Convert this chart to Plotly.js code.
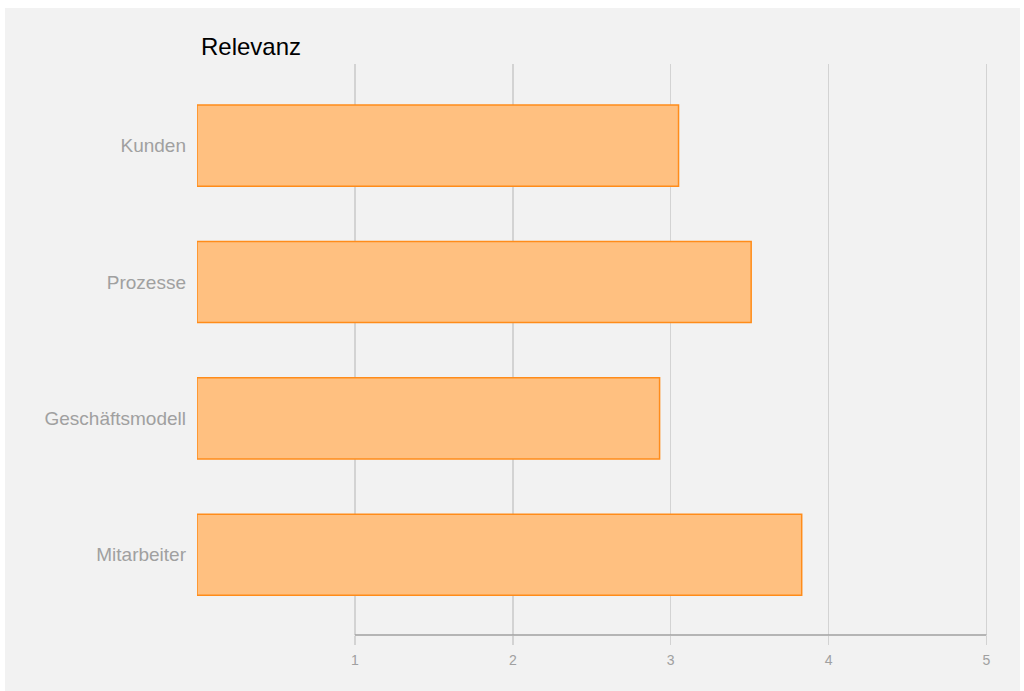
<!DOCTYPE html>
<html>
<head>
<meta charset="utf-8">
<script src="https://cdn.plot.ly/plotly-3.0.1.min.js"></script>
<style>
html,body{margin:0;padding:0;background:#ffffff;}
#chart{position:absolute;left:5px;top:8px;width:1015px;height:683px;}
</style>
</head>
<body>
<div id="chart"></div>
<script>
const categories = ["Kunden", "Prozesse", "Geschäftsmodell", "Mitarbeiter"];
const relevanz = [3.05, 3.51, 2.93, 3.83];
const xTicks = [1, 2, 3, 4, 5];
const xTickLabels = ["1", "2", "3", "4", "5"];
const chartTitle = "Relevanz";

const trace = {
  type: "bar",
  orientation: "h",
  y: categories,
  x: relevanz,
  marker: {color: "#ffc080", line: {color: "#ff8c1a", width: 1.5}},
  hoverinfo: "x+y"
};

const layout = {
  width: 1015,
  height: 683,
  paper_bgcolor: "#f2f2f2",
  plot_bgcolor: "#f2f2f2",
  margin: {l: 192, r: 32, t: 56, b: 56, pad: 0},
  showlegend: false,
  bargap: 0.405,
  font: {family: "Liberation Sans, Arial, sans-serif", color: "#a0a0a0"},
  title: {
    text: chartTitle,
    x: 0, xref: "paper", xanchor: "left",
    y: 1, yref: "container", yanchor: "top",
    pad: {t: 30, l: 4},
    font: {size: 24, color: "#000000", family: "Liberation Sans, Arial, sans-serif"}
  },
  xaxis: {
    range: [0, 5.01],
    tickvals: xTicks,
    ticktext: xTickLabels,
    showgrid: true,
    gridcolor: "#d3d3d3",
    gridwidth: 1.5,
    zeroline: false,
    showline: false,
    ticks: "outside",
    ticklen: 9,
    tickwidth: 1.5,
    tickcolor: "#d3d3d3",
    ticklabelstandoff: 3,
    tickfont: {size: 14, color: "#a0a0a0"},
    fixedrange: true
  },
  yaxis: {
    type: "category",
    categoryorder: "array",
    categoryarray: categories,
    range: [3.588, -0.598],
    showgrid: false,
    zeroline: false,
    showline: false,
    ticks: "",
    ticklabelstandoff: 10,
    tickfont: {size: 19, color: "#a0a0a0"},
    fixedrange: true
  },
  shapes: [{
    type: "line", xref: "x", yref: "paper",
    x0: xTicks[0], x1: xTicks[xTicks.length - 1], y0: 0, y1: 0,
    line: {color: "#a0a0a0", width: 1.5},
    layer: "above"
  }]
};

Plotly.newPlot("chart", [trace], layout, {displayModeBar: false, staticPlot: true});
</script>
</body>
</html>
